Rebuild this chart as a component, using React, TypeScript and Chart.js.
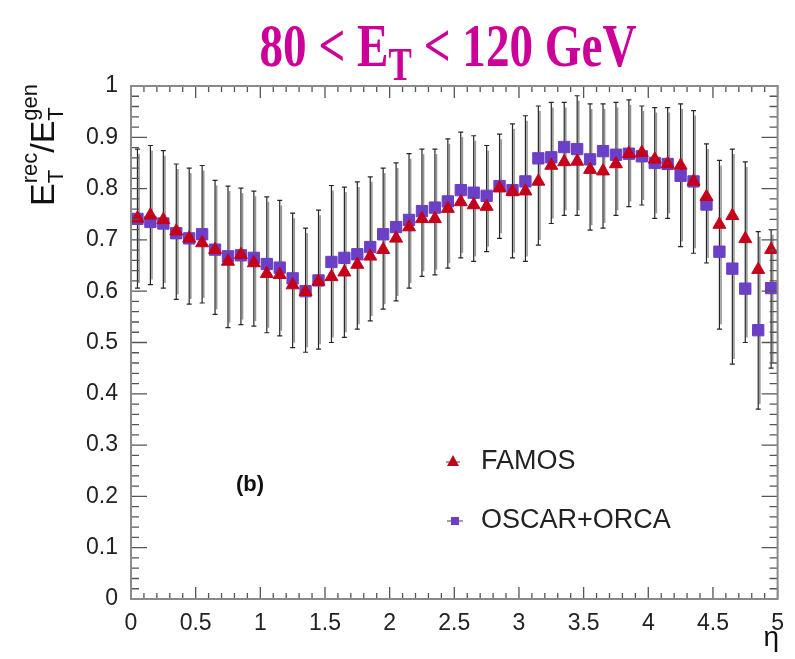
import React, { useEffect, useRef } from "react";
import { Chart, registerables } from "chart.js";

Chart.register(...registerables);

// ---- data ----
const etaBins = [
  0.05, 0.15, 0.25, 0.35, 0.45, 0.55, 0.65, 0.75, 0.85, 0.95,
  1.05, 1.15, 1.25, 1.35, 1.45, 1.55, 1.65, 1.75, 1.85, 1.95,
  2.05, 2.15, 2.25, 2.35, 2.45, 2.55, 2.65, 2.75, 2.85, 2.95,
  3.05, 3.15, 3.25, 3.35, 3.45, 3.55, 3.65, 3.75, 3.85, 3.95,
  4.05, 4.15, 4.25, 4.35, 4.45, 4.55, 4.65, 4.75, 4.85, 4.95,
];

const famosResponse = [
  0.742, 0.748, 0.739, 0.717, 0.703, 0.694, 0.681, 0.658, 0.671, 0.655,
  0.634, 0.632, 0.612, 0.599, 0.619, 0.628, 0.637, 0.652, 0.668, 0.681,
  0.703, 0.725, 0.741, 0.741, 0.761, 0.774, 0.768, 0.765, 0.801, 0.794,
  0.795, 0.814, 0.845, 0.852, 0.853, 0.837, 0.834, 0.848, 0.868, 0.870,
  0.857, 0.848, 0.845, 0.814, 0.784, 0.730, 0.747, 0.702, 0.642, 0.681,
];

const oscarOrcaResponse = [
  0.741, 0.735, 0.732, 0.713, 0.703, 0.711, 0.681, 0.668, 0.670, 0.665,
  0.653, 0.646, 0.625, 0.600, 0.621, 0.657, 0.665, 0.672, 0.686, 0.711,
  0.725, 0.739, 0.756, 0.763, 0.775, 0.797, 0.792, 0.786, 0.805, 0.797,
  0.814, 0.859, 0.861, 0.881, 0.877, 0.857, 0.873, 0.866, 0.868, 0.863,
  0.850, 0.848, 0.825, 0.814, 0.769, 0.677, 0.644, 0.605, 0.524, 0.606,
];

const spreadHigh = [
  0.877, 0.884, 0.874, 0.848, 0.840, 0.845, 0.816, 0.805, 0.801, 0.795,
  0.784, 0.777, 0.752, 0.723, 0.758, 0.806, 0.803, 0.813, 0.823, 0.840,
  0.850, 0.868, 0.877, 0.877, 0.897, 0.910, 0.903, 0.884, 0.906, 0.926,
  0.942, 0.961, 0.968, 0.968, 0.981, 0.965, 0.965, 0.968, 0.973, 0.961,
  0.958, 0.958, 0.965, 0.952, 0.887, 0.855, 0.877, 0.852, 0.716, 0.720,
];

const spreadLow = [
  0.606, 0.613, 0.606, 0.584, 0.575, 0.577, 0.555, 0.529, 0.535, 0.532,
  0.519, 0.513, 0.490, 0.481, 0.487, 0.500, 0.510, 0.526, 0.542, 0.565,
  0.581, 0.606, 0.629, 0.632, 0.645, 0.665, 0.658, 0.677, 0.703, 0.665,
  0.658, 0.690, 0.732, 0.748, 0.748, 0.719, 0.723, 0.748, 0.765, 0.768,
  0.742, 0.742, 0.687, 0.674, 0.655, 0.526, 0.458, 0.500, 0.370, 0.450,
];

const seriesNames = ["FAMOS", "OSCAR+ORCA"];
const titleParts = ["80 < E", "T", " < 120 GeV"];
const xAxisTitle = "η";
const panelLabel = "(b)";

const W = 795;
const H = 659;
const RED = "#c4001a";
const PURPLE = "#6b3fc6";
const SANS = '"Liberation Sans", Arial, Helvetica, sans-serif';
const SERIF = '"Liberation Serif", "Times New Roman", serif';

const fmt = (v: number) => String(Math.round(v * 10) / 10);

const rootStyle = {
  id: "rootStyle",
  beforeDatasetsDraw(chart: any) {
    const { ctx } = chart;
    const x = chart.scales.x;
    const y = chart.scales.y;
    ctx.save();
    for (let i = 0; i < etaBins.length; i++) {
      const px = x.getPixelForValue(etaBins[i]);
      const pt = y.getPixelForValue(spreadHigh[i]);
      const pb = y.getPixelForValue(spreadLow[i]);
      ctx.strokeStyle = "rgba(130,130,130,0.85)";
      ctx.lineWidth = 1.6;
      ctx.beginPath();
      ctx.moveTo(px + 1.6, pt + 5);
      ctx.lineTo(px + 1.6, pb - 5);
      ctx.stroke();
      ctx.strokeStyle = "#262626";
      ctx.lineWidth = 1.2;
      ctx.beginPath();
      ctx.moveTo(px, pt);
      ctx.lineTo(px, pb);
      ctx.moveTo(px - 2.5, pt);
      ctx.lineTo(px + 2.5, pt);
      ctx.moveTo(px - 2.5, pb);
      ctx.lineTo(px + 2.5, pb);
      ctx.stroke();
    }
    ctx.restore();
  },
  afterDraw(chart: any) {
    const { ctx, chartArea } = chart;
    const { left, right, top, bottom } = chartArea;
    const x = chart.scales.x;
    const y = chart.scales.y;
    ctx.save();

    // ticks (inward, all four sides)
    ctx.strokeStyle = "#555";
    ctx.lineWidth = 1.3;
    ctx.beginPath();
    for (let i = 0; i <= 50; i++) {
      const px = x.getPixelForValue(i / 10);
      const len = i % 5 === 0 ? 12 : 6;
      ctx.moveTo(px, bottom);
      ctx.lineTo(px, bottom - len);
      ctx.moveTo(px, top);
      ctx.lineTo(px, top + len);
    }
    for (let i = 0; i <= 50; i++) {
      const py = y.getPixelForValue(i / 50);
      const len = i % 5 === 0 ? 16 : 8;
      ctx.moveTo(left, py);
      ctx.lineTo(left + len, py);
      ctx.moveTo(right, py);
      ctx.lineTo(right - len, py);
    }
    ctx.stroke();

    // frame
    ctx.strokeStyle = "#8a8a8a";
    ctx.lineWidth = 2;
    ctx.strokeRect(left, top, right - left, bottom - top);

    // title
    const mainF = `bold 62px ${SERIF}`;
    const subF = `bold 46px ${SERIF}`;
    ctx.fillStyle = "#cc0099";
    ctx.textBaseline = "alphabetic";
    ctx.textAlign = "left";
    ctx.font = mainF;
    const w0 = ctx.measureText(titleParts[0]).width;
    const w2 = ctx.measureText(titleParts[2]).width;
    ctx.font = subF;
    const w1 = ctx.measureText(titleParts[1]).width;
    const total = w0 + w1 + w2;
    const target = 377;
    const s = target / total;
    ctx.save();
    ctx.translate(448 - target / 2, 0);
    ctx.scale(s, 1);
    ctx.font = mainF;
    ctx.fillText(titleParts[0], 0, 66);
    ctx.font = subF;
    ctx.fillText(titleParts[1], w0, 80);
    ctx.font = mainF;
    ctx.fillText(titleParts[2], w0 + w1, 66);
    ctx.restore();

    // y axis title: E_T^rec / E_T^gen (rotated)
    const bigF = `34px ${SANS}`;
    const smallF = `22px ${SANS}`;
    ctx.fillStyle = "#111";
    ctx.font = bigF;
    const eW = ctx.measureText("E").width;
    const slW = ctx.measureText("/").width;
    ctx.font = smallF;
    const tW = ctx.measureText("T").width;
    const recW = ctx.measureText("rec").width;
    const genW = ctx.measureText("gen").width;
    const len = eW + Math.max(tW, recW) + slW + eW + Math.max(tW, genW);
    ctx.save();
    ctx.translate(54, 145 + len / 2);
    ctx.rotate(-Math.PI / 2);
    let cx = 0;
    ctx.font = bigF;
    ctx.fillText("E", cx, 0);
    cx += eW;
    ctx.font = smallF;
    ctx.fillText("T", cx, 9);
    ctx.fillText("rec", cx, -17);
    cx += Math.max(tW, recW);
    ctx.font = bigF;
    ctx.fillText("/", cx, 0);
    cx += slW;
    ctx.fillText("E", cx, 0);
    cx += eW;
    ctx.font = smallF;
    ctx.fillText("T", cx, 9);
    ctx.fillText("gen", cx, -17);
    ctx.restore();

    // x axis title
    ctx.font = `28px ${SANS}`;
    ctx.textAlign = "right";
    ctx.fillStyle = "#111";
    ctx.fillText(xAxisTitle, 779, 646);

    // panel label
    ctx.font = `bold 22px ${SANS}`;
    ctx.textAlign = "center";
    ctx.fillText(panelLabel, 250, 491);

    // legend
    ctx.textAlign = "left";
    ctx.textBaseline = "middle";
    ctx.font = `27px ${SANS}`;
    ctx.fillStyle = "#222";
    ctx.fillText(seriesNames[0], 481, 462);
    ctx.fillText(seriesNames[1], 481, 521);
    // legend markers
    ctx.strokeStyle = "#444";
    ctx.lineWidth = 1;
    ctx.beginPath();
    ctx.moveTo(446, 462);
    ctx.lineTo(460, 462);
    ctx.moveTo(447, 521);
    ctx.lineTo(463, 521);
    ctx.stroke();
    ctx.fillStyle = RED;
    ctx.beginPath();
    ctx.moveTo(453, 455);
    ctx.lineTo(459, 466);
    ctx.lineTo(447, 466);
    ctx.closePath();
    ctx.fill();
    ctx.fillStyle = PURPLE;
    ctx.fillRect(451, 517, 8, 8);

    ctx.restore();
  },
};

export default function App() {
  const ref = useRef<HTMLCanvasElement | null>(null);

  useEffect(() => {
    if (!ref.current) return;
    const chart = new Chart(ref.current, {
      type: "scatter",
      data: {
        datasets: [
          {
            label: seriesNames[0],
            data: etaBins.map((e, i) => ({ x: e, y: famosResponse[i] })),
            pointStyle: "triangle",
            pointRadius: 7.5,
            backgroundColor: RED,
            borderColor: RED,
            borderWidth: 1,
            showLine: false,
          },
          {
            label: seriesNames[1],
            data: etaBins.map((e, i) => ({ x: e, y: oscarOrcaResponse[i] })),
            pointStyle: "rect",
            pointRadius: 8,
            backgroundColor: PURPLE,
            borderColor: PURPLE,
            borderWidth: 1,
            showLine: false,
          },
        ],
      },
      options: {
        responsive: false,
        animation: false,
        events: [],
        layout: { padding: { top: 86, right: 16, left: 0, bottom: 0 } },
        plugins: {
          legend: { display: false },
          tooltip: { enabled: false },
          title: { display: false },
        },
        scales: {
          x: {
            type: "linear",
            min: 0,
            max: 5,
            grid: { display: false, drawTicks: false },
            border: { display: false },
            ticks: {
              stepSize: 0.5,
              padding: 11,
              color: "#222",
              font: { family: SANS, size: 23 },
              maxRotation: 0,
              autoSkip: false,
              callback: (v: any) => fmt(Number(v)),
            },
            afterFit: (scale: any) => {
              scale.height = 60;
            },
          },
          y: {
            type: "linear",
            min: 0,
            max: 1,
            grid: { display: false, drawTicks: false },
            border: { display: false },
            ticks: {
              stepSize: 0.1,
              padding: 13,
              color: "#222",
              font: { family: SANS, size: 23 },
              autoSkip: false,
              callback: (v: any) => fmt(Number(v)),
            },
            afterFit: (scale: any) => {
              scale.width = 131;
            },
          },
        },
      },
      plugins: [rootStyle],
    });
    return () => chart.destroy();
  }, []);

  return (
    <div style={{ position: "absolute", left: 0, top: 0, width: W, height: H, background: "#fff" }}>
      <canvas ref={ref} width={W} height={H} style={{ display: "block" }} />
    </div>
  );
}
